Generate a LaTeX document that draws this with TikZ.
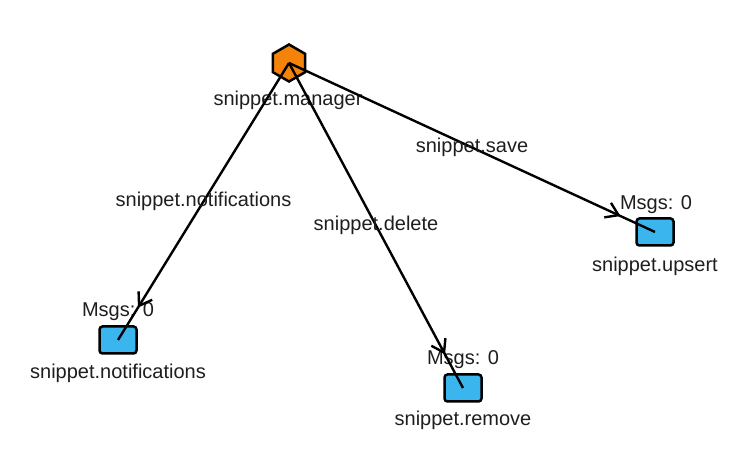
\documentclass[tikz,border=0pt]{standalone}
\usepackage{fontspec}
\setmainfont{Liberation Sans}
\usetikzlibrary{shapes.geometric,arrows.meta,decorations.markings}

\definecolor{hexorange}{HTML}{F5830A}
\definecolor{queueblue}{HTML}{3BB5EE}
\definecolor{labelgray}{HTML}{1E1E1E}

\tikzset{
    exchange/.style={regular polygon, regular polygon sides=6, shape border rotate=30,
        draw=black, line width=1.25pt, fill=hexorange, minimum size=18.5pt, inner sep=0pt},
    queue/.style={rectangle, rounded corners=1.5pt, draw=black, line width=1.25pt,
        fill=queueblue, minimum width=18.5pt, minimum height=13.5pt, inner sep=0pt},
    txt/.style={font=\fontsize{10}{12}\selectfont, text=labelgray, inner sep=0pt},
    flow/.style={black, line width=1.2pt,
        postaction={decorate, decoration={markings,
            mark=at position -19pt with {\arrow{Straight Barb[length=6pt,width=8pt,line width=1.2pt]}}}}}
}

\begin{document}
\begin{tikzpicture}[x=0.5pt, y=-0.5pt]
        \useasboundingbox (0,0) rectangle (756,474);

        \node[exchange] (mgr) at (289,63) {};
        \node[queue] (notif) at (118,340) {};
        \node[queue] (remove) at (463,388) {};
        \node[queue] (upsert) at (655,232) {};

        \node[txt] (mgrname) at (288,100) {snippet.manager};
        \node[txt] (notifmsgs) at (118,312) {Msgs: 0};
        \node[txt] (notifname) at (118,373) {snippet.notifications};
        \node[txt] (removemsgs) at (463,360) {Msgs: 0};
        \node[txt] (removename) at (463,420) {snippet.remove};
        \node[txt] (upsertmsgs) at (656,205) {Msgs: 0};
        \node[txt] (upsertname) at (655,266) {snippet.upsert};

        \draw[flow] (mgr.center) -- node[txt, pos=0.5] (notifkey) {snippet.notifications} (notif.center);
        \draw[flow] (mgr.center) -- node[txt, pos=0.5] (removekey) {snippet.delete} (remove.center);
        \draw[flow] (mgr.center) -- node[txt, pos=0.5] (upsertkey) {snippet.save} (upsert.center);
    \end{tikzpicture}
\end{document}
